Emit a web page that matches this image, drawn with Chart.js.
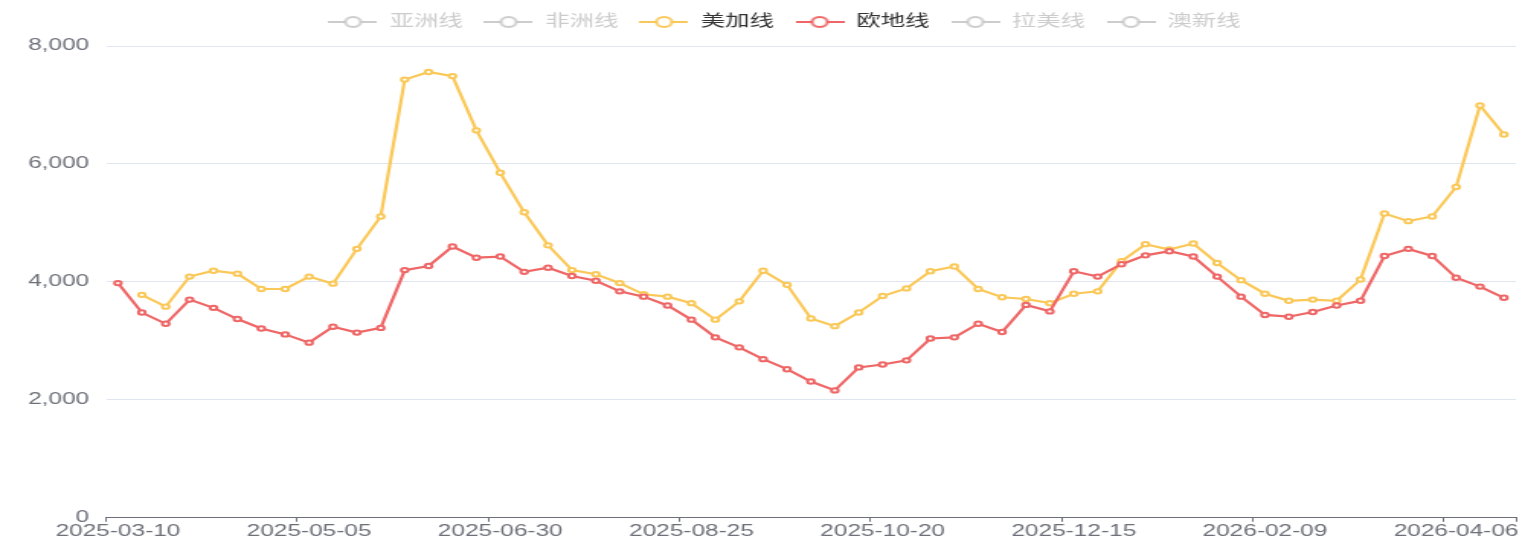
<!DOCTYPE html>
<html>
<head>
<meta charset="utf-8">
<script src="https://cdn.jsdelivr.net/npm/chart.js@4"></script>
<style>
  html, body { margin: 0; padding: 0; background: #fff; overflow: hidden; }
  /* the reference is a horizontally stretched screenshot: draw at 1000px and stretch */
  #wrap { width: 1000px; height: 541px; transform: scaleX(1.525); transform-origin: 0 0; }
</style>
</head>
<body>
<div id="wrap"><canvas id="chart"></canvas></div>
<script>
const dates = [
  '2025-03-10', '2025-03-17', '2025-03-24', '2025-03-31', '2025-04-07', '2025-04-14', '2025-04-21', '2025-04-28',
  '2025-05-05', '2025-05-12', '2025-05-19', '2025-05-26', '2025-06-02', '2025-06-09', '2025-06-16', '2025-06-23',
  '2025-06-30', '2025-07-07', '2025-07-14', '2025-07-21', '2025-07-28', '2025-08-04', '2025-08-11', '2025-08-18',
  '2025-08-25', '2025-09-01', '2025-09-08', '2025-09-15', '2025-09-22', '2025-09-29', '2025-10-06', '2025-10-13',
  '2025-10-20', '2025-10-27', '2025-11-03', '2025-11-10', '2025-11-17', '2025-11-24', '2025-12-01', '2025-12-08',
  '2025-12-15', '2025-12-22', '2025-12-29', '2026-01-05', '2026-01-12', '2026-01-19', '2026-01-26', '2026-02-02',
  '2026-02-09', '2026-02-16', '2026-02-23', '2026-03-02', '2026-03-09', '2026-03-16', '2026-03-23', '2026-03-30',
  '2026-04-06', '2026-04-13', '2026-04-20',
];

const seriesNames = ['亚洲线', '非洲线', '美加线', '欧地线', '拉美线', '澳新线'];
const seriesColors = ['#5470c6', '#91cc75', '#fac858', '#ee6666', '#73c0de', '#3ba272'];
const hiddenSeries = [true, true, false, false, true, true];

const asia = [];
const africa = [];
const usCanada = [
  null, 3780, 3580, 4090, 4190, 4140, 3880, 3880, 4090, 3970, 4560, 5110, 7430, 7560, 7490, 6570,
  5850, 5180, 4620, 4200, 4130, 3980, 3790, 3750, 3640, 3360, 3670, 4190, 3950, 3380, 3250, 3480,
  3760, 3890, 4180, 4260, 3880, 3740, 3710, 3640, 3800, 3840, 4350, 4640, 4550, 4650, 4320, 4030,
  3800, 3680, 3700, 3680, 4040, 5160, 5030, 5110, 5610, 6990, 6500,
];
const europeMed = [
  3980, 3480, 3290, 3700, 3560, 3370, 3210, 3110, 2970, 3240, 3140, 3220, 4200, 4270, 4600, 4410,
  4430, 4170, 4240, 4100, 4020, 3840, 3750, 3600, 3360, 3060, 2890, 2690, 2520, 2310, 2160, 2550,
  2600, 2670, 3040, 3060, 3290, 3150, 3610, 3500, 4180, 4090, 4300, 4450, 4520, 4430, 4090, 3750,
  3440, 3410, 3490, 3600, 3680, 4440, 4560, 4440, 4070, 3920, 3730,
];
const latam = [];
const oceania = [];
const seriesData = [asia, africa, usCanada, europeMed, latam, oceania];

const yTicks = [0, 2000, 4000, 6000, 8000];
const labelEvery = 8;

const axisGrey = '#6e7079';
const offGrey = '#ccc';

// echarts-like legend icon: short line with an open circle in the middle
function legendIcon(color) {
  const c = document.createElement('canvas');
  c.width = 32;
  c.height = 16;
  const g = c.getContext('2d');
  g.strokeStyle = color;
  g.lineWidth = 2;
  g.beginPath();
  g.moveTo(0, 8);
  g.lineTo(32, 8);
  g.stroke();
  g.beginPath();
  g.arc(16, 8, 5, 0, Math.PI * 2);
  g.fillStyle = '#fff';
  g.fill();
  g.stroke();
  return c;
}

Chart.defaults.font.family = '"Liberation Sans", "Noto Sans CJK SC", sans-serif';
Chart.defaults.font.size = 16;

const datasets = seriesNames.map((name, i) => ({
  label: name,
  data: seriesData[i],
  hidden: hiddenSeries[i],
  borderColor: seriesColors[i],
  backgroundColor: seriesColors[i],
  borderWidth: 2.2,
  pointRadius: 2.2,
  pointBorderWidth: 2,
  pointBackgroundColor: '#fff',
  pointBorderColor: seriesColors[i],
  tension: 0,
  spanGaps: false,
  order: -i,
}));

// a bit more room under the legend, and nudge the legend row right like the original
const legendTweak = {
  id: 'legendTweak',
  beforeInit(chart) {
    const fit = chart.legend.fit;
    chart.legend.fit = function () {
      fit.call(this);
      this.height += 6;
    };
  },
  afterLayout(chart) {
    chart.legend.left += 13;
  },
};

new Chart(document.getElementById('chart'), {
  type: 'line',
  data: { labels: dates, datasets },
  plugins: [legendTweak],
  options: {
    responsive: true,
    maintainAspectRatio: false,
    animation: false,
    layout: { padding: { left: 18, right: 2, top: 0, bottom: 0 } },
    plugins: {
      tooltip: { enabled: false },
      legend: {
        position: 'top',
        labels: {
          usePointStyle: true,
          pointStyleWidth: 32,
          padding: 14,
          generateLabels: chart => chart.data.datasets.map((ds, i) => {
            const on = chart.isDatasetVisible(i);
            return {
              text: ds.label,
              datasetIndex: i,
              hidden: false,
              fontColor: on ? '#333' : offGrey,
              pointStyle: legendIcon(on ? ds.borderColor : offGrey),
              fillStyle: 'transparent',
              strokeStyle: 'transparent',
              lineWidth: 0,
            };
          }),
        },
      },
    },
    scales: {
      x: {
        type: 'category',
        offset: true,
        border: { display: true, color: axisGrey, width: 1 },
        grid: {
          offset: true,
          drawOnChartArea: false,
          drawTicks: true,
          tickLength: 4,
          color: c => (c.index === undefined || c.index % labelEvery === 0) ? axisGrey : 'rgba(0,0,0,0)',
        },
        ticks: {
          autoSkip: false,
          maxRotation: 0,
          minRotation: 0,
          padding: 0,
          color: axisGrey,
          callback: (v, i) => (i % labelEvery === 0 ? dates[i] : ''),
        },
      },
      y: {
        min: yTicks[0],
        max: yTicks[yTicks.length - 1],
        border: { display: false },
        grid: { color: '#e0e6f1', drawTicks: false },
        afterBuildTicks: axis => { axis.ticks = yTicks.map(v => ({ value: v })); },
        afterFit: axis => { axis.width = 51.5; },
        ticks: {
          padding: 11,
          color: axisGrey,
          callback: v => v.toLocaleString('en-US'),
        },
      },
    },
  },
});
</script>
</body>
</html>
